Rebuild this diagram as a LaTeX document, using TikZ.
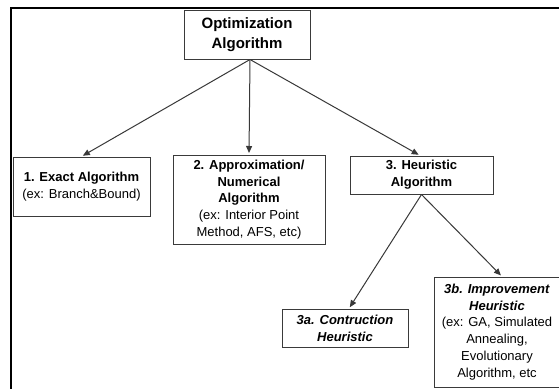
\documentclass[tikz,border=0pt]{standalone}
\usepackage{fontspec}
\setmainfont{Liberation Sans}
\usetikzlibrary{arrows.meta}
\definecolor{linegray}{HTML}{383838}
\definecolor{boxgray}{HTML}{3A3A3A}
\tikzset{
  box/.style={draw=boxgray, line width=1pt, fill=white, inner sep=0pt, align=center,
    font=\fontsize{13}{16.8}\selectfont},
  conn/.style={draw=linegray, line width=1pt, -{Triangle[length=7pt,width=6pt]}, shorten >=1.5pt},
  frame/.style={draw=black, line width=2pt}
}
\begin{document}
\begin{tikzpicture}[x=1pt,y=1pt]
\useasboundingbox (0,0) rectangle (559,-388);
\draw[frame] (11,-392) -- (11,-8) -- (563,-8);
\node[box, minimum width=126, minimum height=49, font=\fontsize{15}{20.5}\selectfont\bfseries] (top) at (247,-34.5) {Optimization\\Algorithm};
\node[box, minimum width=137, minimum height=59] (b1) at (81.5,-186.5) {\textbf{1. Exact Algorithm}\\(ex: Branch\&Bound)};
\node[box, minimum width=152, minimum height=89] (b2) at (249,-199.5) {\textbf{2. Approximation/}\\\textbf{Numerical}\\\textbf{Algorithm}\\(ex: Interior Point\\Method, AFS, etc)};
\node[box, minimum width=143, minimum height=38] (b3) at (421.5,-175) {\textbf{3. Heuristic}\\\textbf{Algorithm}};
\node[box, minimum width=126, minimum height=38] (b3a) at (345,-328) {\textbf{\itshape 3a. Contruction}\\\textbf{\itshape Heuristic}};
\node[box, minimum width=126, minimum height=110] (b3b) at (497,-332) {\textbf{\itshape 3b. Improvement}\\\textbf{\itshape Heuristic}\\(ex: GA, Simulated\\Annealing,\\Evolutionary\\Algorithm, etc};
\draw[conn] ([xshift=3pt]top.south) -- (b1.north);
\draw[conn] ([xshift=3pt]top.south) -- (b2.north);
\draw[conn] ([xshift=3pt]top.south) -- ([xshift=-1.5pt]b3.north);
\draw[conn] (b3.south) -- ([xshift=4pt]b3a.north);
\draw[conn] (b3.south) -- ([xshift=5pt]b3b.north);
\end{tikzpicture}
\end{document}
